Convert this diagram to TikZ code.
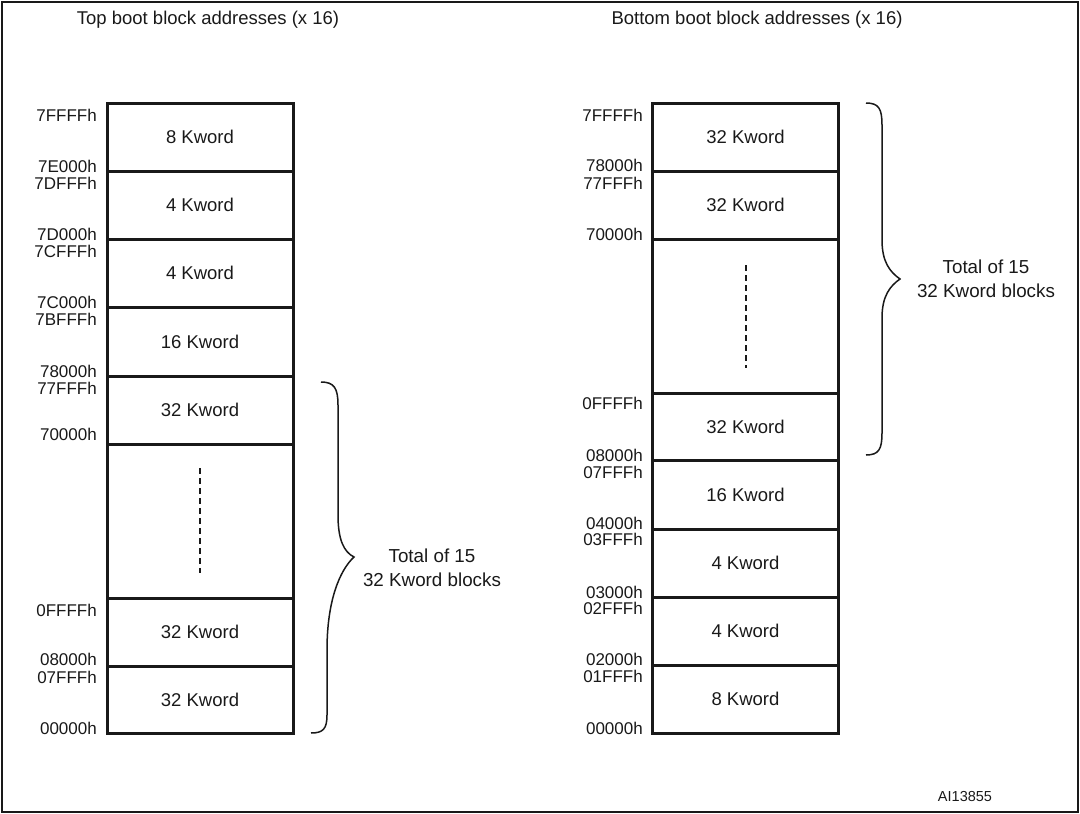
\documentclass[tikz,border=0pt]{standalone}
\usepackage{fontspec}
\setmainfont{Liberation Sans}
\begin{document}
\begin{tikzpicture}[x=1pt,y=-1pt,
  blk/.style={draw=black!90, line width=3pt, minimum width=186pt, inner sep=0pt, text=black!90, font=\fontsize{18.5}{20}\selectfont},
  addr/.style={anchor=base east, inner sep=0pt, text=black!90, font=\fontsize{17}{19}\selectfont},
  ttl/.style={inner sep=0pt, text=black!90, font=\fontsize{18.5}{20}\selectfont},
  note/.style={inner sep=0pt, align=center, text=black!90, font=\fontsize{18.8}{24}\selectfont},
  bracecurve/.style={draw=black!90, line width=1.5pt},
  dotsline/.style={draw=black!90, line width=2pt, dash pattern=on 6pt off 4pt}]
\useasboundingbox (0,0) rectangle (1080,814);
\draw[line width=2pt, black!90] (2,2) rectangle (1078,812);

% titles
\node[ttl] (t1) at (208,20) {Top boot block addresses (x 16)};
\node[ttl] (t2) at (757,20) {Bottom boot block addresses (x 16)};

% left column
\node[blk, minimum height=68pt] (L1) at (200,137) {8 Kword};
\node[blk, minimum height=68pt] (L2) at (200,205) {4 Kword};
\node[blk, minimum height=68pt] (L3) at (200,273) {4 Kword};
\node[blk, minimum height=69pt] (L4) at (200,341.5) {16 Kword};
\node[blk, minimum height=68pt] (L5) at (200,410) {32 Kword};
\node[blk, minimum height=154pt] (L6) at (200,521) {};
\node[blk, minimum height=68pt] (L7) at (200,632) {32 Kword};
\node[blk, minimum height=67pt] (L8) at (200,699.5) {32 Kword};
\coordinate (ld1) at (200,468);
\coordinate (ld2) at (200,573);
\draw[dotsline] (ld1) -- (ld2);

% right column
\node[blk, minimum height=68pt] (R1) at (745.5,137) {32 Kword};
\node[blk, minimum height=68pt] (R2) at (745.5,205) {32 Kword};
\node[blk, minimum height=154pt] (R3) at (745.5,316) {};
\node[blk, minimum height=67pt] (R4) at (745.5,426.5) {32 Kword};
\node[blk, minimum height=69pt] (R5) at (745.5,494.5) {16 Kword};
\node[blk, minimum height=68pt] (R6) at (745.5,563) {4 Kword};
\node[blk, minimum height=68pt] (R7) at (745.5,631) {4 Kword};
\node[blk, minimum height=68pt] (R8) at (745.5,699) {8 Kword};
\coordinate (rd1) at (745.5,265);
\coordinate (rd2) at (745.5,368);
\draw[dotsline] (rd1) -- (rd2);

% left addresses
\node[addr] (la1) at (97,121) {7FFFFh};
\node[addr] (la2) at (97,172.5) {7E000h};
\node[addr] (la3) at (97,189) {7DFFFh};
\node[addr] (la4) at (97,240.5) {7D000h};
\node[addr] (la5) at (97,257) {7CFFFh};
\node[addr] (la6) at (97,308.5) {7C000h};
\node[addr] (la7) at (97,325) {7BFFFh};
\node[addr] (la8) at (97,377.5) {78000h};
\node[addr] (la9) at (97,394) {77FFFh};
\node[addr] (la10) at (97,440) {70000h};
\node[addr] (la11) at (97,616) {0FFFFh};
\node[addr] (la12) at (97,665.5) {08000h};
\node[addr] (la13) at (97,683) {07FFFh};
\node[addr] (la14) at (97,734) {00000h};

% right addresses
\node[addr] (ra1) at (643,121) {7FFFFh};
\node[addr] (ra2) at (643,171.5) {78000h};
\node[addr] (ra3) at (643,189.5) {77FFFh};
\node[addr] (ra4) at (643,240.5) {70000h};
\node[addr] (ra5) at (643,409.5) {0FFFFh};
\node[addr] (ra6) at (643,461.5) {08000h};
\node[addr] (ra7) at (643,478.5) {07FFFh};
\node[addr] (ra8) at (643,529.5) {04000h};
\node[addr] (ra9) at (643,545.5) {03FFFh};
\node[addr] (ra10) at (643,598.5) {03000h};
\node[addr] (ra11) at (643,614.5) {02FFFh};
\node[addr] (ra12) at (643,665.5) {02000h};
\node[addr] (ra13) at (643,682.5) {01FFFh};
\node[addr] (ra14) at (643,734.5) {00000h};

% left brace
\coordinate (lbt) at (321,382);
\coordinate (lbm) at (354,557);
\coordinate (lbb) at (311,733);
\draw[bracecurve] (lbt) .. controls (334,382) and (338,388) .. (338,405)
  -- (338,515) .. controls (338,540) and (344,552) .. (lbm)
  .. controls (340,570) and (327,600) .. (327,650)
  -- (327,715) .. controls (327,729) and (323,733) .. (lbb);
\node[note] (ln) at (432,568) {Total of 15\\32 Kword blocks};

% right brace
\coordinate (rbt) at (866,103);
\coordinate (rbm) at (900,279);
\coordinate (rbb) at (866,455);
\draw[bracecurve] (rbt) .. controls (879,103) and (882,109) .. (882,125)
  -- (882,240) .. controls (882,262) and (890,272) .. (rbm)
  .. controls (890,286) and (882,296) .. (882,318)
  -- (882,433) .. controls (882,449) and (879,455) .. (rbb);
\node[note] (rn) at (986,279) {Total of 15\\32 Kword blocks};

\node[inner sep=0pt, text=black!90, font=\fontsize{14.5}{16}\selectfont] (id) at (965,797) {AI13855};
\end{tikzpicture}
\end{document}
